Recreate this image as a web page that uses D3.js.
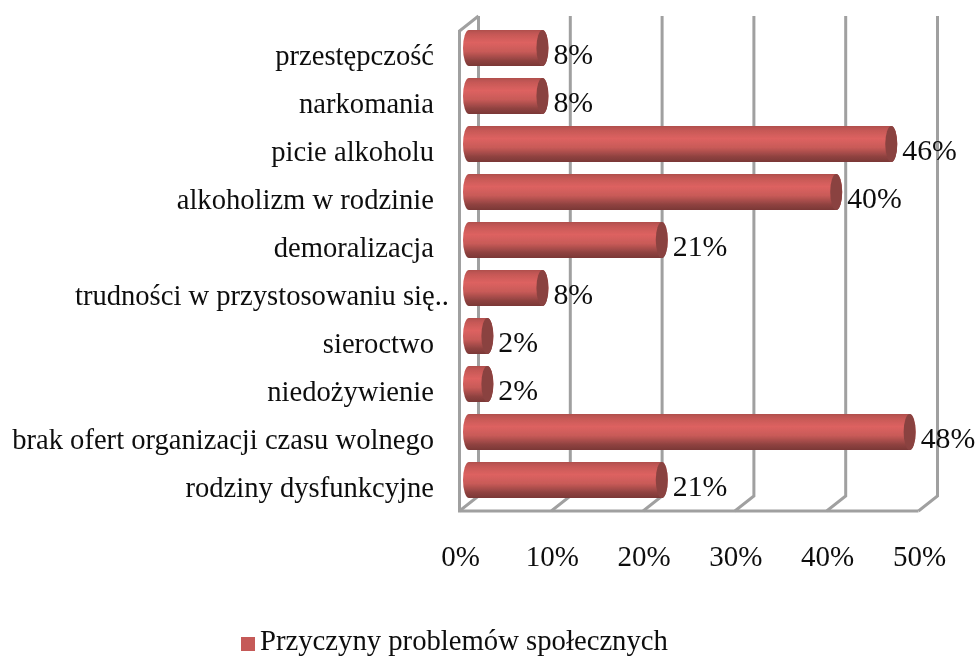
<!DOCTYPE html>
<html><head><meta charset="utf-8">
<script src="https://cdn.jsdelivr.net/npm/d3@7"></script>
<style>html,body{margin:0;background:#fff}svg{display:block}text{font-family:"Liberation Serif",serif;fill:#111}</style>
</head><body><svg id="c" width="975" height="657"></svg>
<script>
const categories=["przestępczość","narkomania","picie alkoholu","alkoholizm w rodzinie","demoralizacja","trudności w przystosowaniu się..","sieroctwo","niedożywienie","brak ofert organizacji czasu wolnego","rodziny dysfunkcyjne"];
const values=[8,8,46,40,21,8,2,2,48,21];
const tickValues=[0,10,20,30,40,50];
const seriesName="Przyczyny problemów społecznych";
const svg=d3.select("#c");
const defs=svg.append("defs");
const g=defs.append("linearGradient").attr("id","cyl").attr("x1",0).attr("x2",0).attr("y1",0).attr("y2",1);
[[0,"#b04f4d"],[.12,"#c65856"],[.35,"#dd6260"],[.6,"#c85a58"],[.85,"#8f4240"],[1,"#7a3836"]].forEach(s=>g.append("stop").attr("offset",s[0]).attr("stop-color",s[1]));
defs.append("filter").attr("id","soft").append("feGaussianBlur").attr("stdDeviation",.65);
const root=svg.append("g").attr("filter","url(#soft)");
const x=d3.scaleLinear().domain([0,50]).range([459.5,918.5]);
const y=d3.scaleBand().domain(categories).range([24,504]).paddingInner(.25).paddingOuter(.125);
const dx=19,dy=-15,wallTop=31,wallBottom=511;
const wall="#a0a0a0";
const grid=root.append("g").attr("fill","none").attr("stroke",wall).attr("stroke-width",3);
tickValues.forEach(t=>{
  grid.append("path").attr("d",`M${x(t)},${wallBottom}L${x(t)+dx},${wallBottom+dy}L${x(t)+dx},${wallTop+dy}`);
});
grid.append("path").attr("d",`M${x(50)},${wallBottom}L${x(0)},${wallBottom}L${x(0)},${wallTop}L${x(0)+dx},${wallTop+dy}`);
const rx=6;
const bx=v=>x(v)+3.5;
const bars=root.append("g").selectAll("g").data(categories).join("g");
bars.append("path").attr("fill","url(#cyl)").attr("d",(c,i)=>{
  const a=bx(0)+rx,b=bx(values[i])+rx,t=y(c),h=y.bandwidth();
  return `M${a},${t}L${b},${t}A${rx},${h/2} 0 0 1 ${b},${t+h}L${a},${t+h}A${rx},${h/2} 0 0 1 ${a},${t}Z`;
});
bars.append("ellipse").attr("fill","#8a4341")
  .attr("cx",(c,i)=>bx(values[i])+rx).attr("cy",c=>y(c)+y.bandwidth()/2)
  .attr("rx",rx).attr("ry",y.bandwidth()/2);
root.append("g").selectAll("text").data(categories).join("text")
  .attr("x",c=>c.startsWith("trudn")?449:434).attr("y",c=>y(c)+y.bandwidth()/2+17)
  .attr("text-anchor","end").attr("font-size",28.6).text(c=>c);
root.append("g").selectAll("text").data(categories).join("text")
  .attr("x",(c,i)=>bx(values[i])+2*rx+5).attr("y",c=>y(c)+y.bandwidth()/2+16)
  .attr("font-size",29.8).text((c,i)=>values[i]+"%");
root.append("g").selectAll("text").data(tickValues).join("text")
  .attr("x",t=>x(t)+1).attr("y",565.5).attr("text-anchor","middle")
  .attr("font-size",29).text(t=>t+"%");
root.append("rect").attr("x",241).attr("y",637).attr("width",14).attr("height",14).attr("fill","#c55a58");
root.append("text").attr("x",260).attr("y",650).attr("font-size",28.7).text(seriesName);
</script></body></html>
